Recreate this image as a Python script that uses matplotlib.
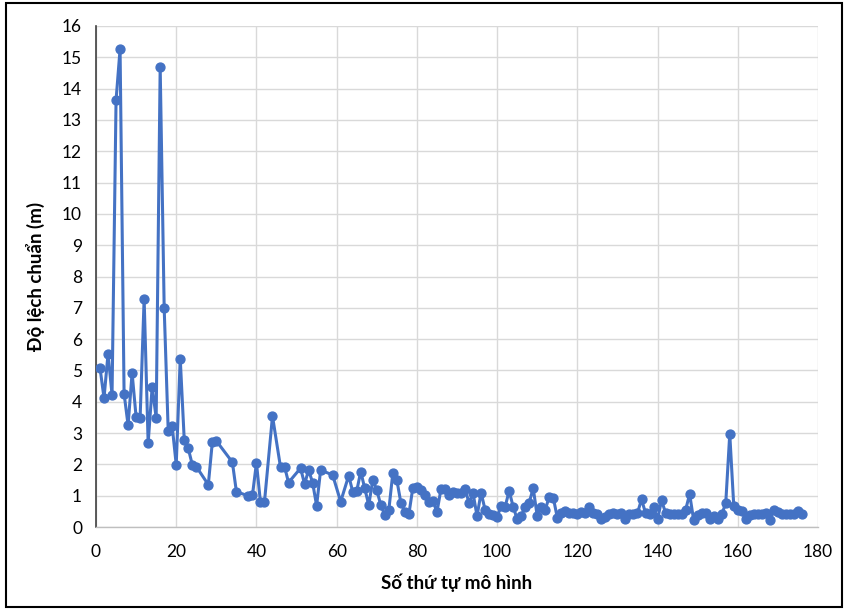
import matplotlib
matplotlib.use("Agg")
import matplotlib.pyplot as plt
from matplotlib import font_manager
from matplotlib.patches import Rectangle

# ---- data ----
model_idx = (list(range(1, 26))
             + [28, 29, 30, 34, 35, 38, 39, 40, 41, 42, 44, 46, 47, 48,
                51, 52, 53, 54, 55, 56, 59, 61]
             + list(range(63, 177)))

std_dev = [
    5.08, 4.12, 5.53, 4.22, 13.63, 15.26, 4.26, 3.25, 4.92, 3.51,
    3.49, 7.29, 2.68, 4.47, 3.49, 14.68, 6.98, 3.08, 3.21, 1.99,
    5.38, 2.78, 2.51, 1.99, 1.93,
    1.35, 2.71, 2.75, 2.07, 1.13, 0.99, 1.01, 2.05, 0.79, 0.80,
    3.54, 1.91, 1.93, 1.42, 1.88, 1.37, 1.82, 1.42, 0.68, 1.82,
    1.66, 0.81,
    # 63..176
    1.64, 1.13, 1.15, 1.77, 1.24, 0.70, 1.50, 1.18, 0.70, 0.38,
    0.54, 1.72, 1.50, 0.78, 0.49, 0.41, 1.26, 1.29, 1.18, 1.02,
    0.81, 0.84, 0.47, 1.21, 1.21, 1.02, 1.13, 1.08, 1.10, 1.20,
    0.78, 1.08, 0.35, 1.10, 0.55, 0.42, 0.38, 0.33, 0.67, 0.65,
    1.15, 0.65, 0.25, 0.35, 0.65, 0.78, 1.24, 0.35, 0.65, 0.55,
    0.97, 0.94, 0.30, 0.44, 0.52, 0.45, 0.45, 0.40, 0.48, 0.45,
    0.65, 0.45, 0.40, 0.25, 0.32, 0.42, 0.44, 0.40, 0.45, 0.25,
    0.40, 0.42, 0.45, 0.88, 0.45, 0.40, 0.65, 0.25, 0.85, 0.45,
    0.40, 0.42, 0.42, 0.40, 0.55, 1.05, 0.22, 0.38, 0.45, 0.46,
    0.25, 0.35, 0.25, 0.40, 0.76, 2.97, 0.67, 0.55, 0.50, 0.25,
    0.38, 0.42, 0.40, 0.42, 0.45, 0.22, 0.54, 0.48, 0.42, 0.40,
    0.40, 0.40, 0.50, 0.40,
]

x_ticks = [0, 20, 40, 60, 80, 100, 120, 140, 160, 180]
y_ticks = list(range(0, 17))
x_label = "Số thứ tự mô hình"
y_label = "Độ lệch chuẩn (m)"

# ---- font ----
available = {f.name for f in font_manager.fontManager.ttflist}
family = "DejaVu Sans"
for cand in ["Liberation Sans Narrow", "Lato", "Open Sans"]:
    if cand in available:
        family = cand
        break
plt.rcParams["font.family"] = [family, "DejaVu Sans"]

fig = plt.figure(figsize=(8.45, 6.1), dpi=100)
ax = fig.add_axes([96 / 845, 1 - 527 / 610, (818 - 96) / 845, (527 - 26) / 610])

color = "#4472C4"
ax.plot(model_idx, std_dev, color=color, lw=2.2, marker="o", ms=6.4,
        markerfacecolor=color, markeredgecolor=color, zorder=3)

ax.set_xlim(0, 180)
ax.set_ylim(0, 16)
ax.set_xticks(x_ticks)
ax.set_yticks(y_ticks)
ax.grid(True, color="#d9d9d9", lw=1.0, zorder=0)
ax.set_axisbelow(True)
ax.tick_params(length=0, labelsize=12.5, colors="#000000")
ax.tick_params(axis="x", pad=12)
ax.tick_params(axis="y", pad=10)

for side in ["top", "right"]:
    ax.spines[side].set_visible(False)
ax.spines["left"].set_color("#404040")
ax.spines["left"].set_linewidth(1.2)
ax.spines["bottom"].set_color("#bfbfbf")
ax.spines["bottom"].set_linewidth(1.0)

ax.set_xlabel(x_label, fontsize=13.5, fontweight="bold", labelpad=10)
ax.set_ylabel(y_label, fontsize=13.5, fontweight="bold", labelpad=12)

# outer frame
fig.patches.append(Rectangle((6 / 845, 3 / 610), 836 / 845, 604 / 610,
                             transform=fig.transFigure, fill=False,
                             edgecolor="black", lw=1.5))

fig.savefig("out.png", dpi=100)
